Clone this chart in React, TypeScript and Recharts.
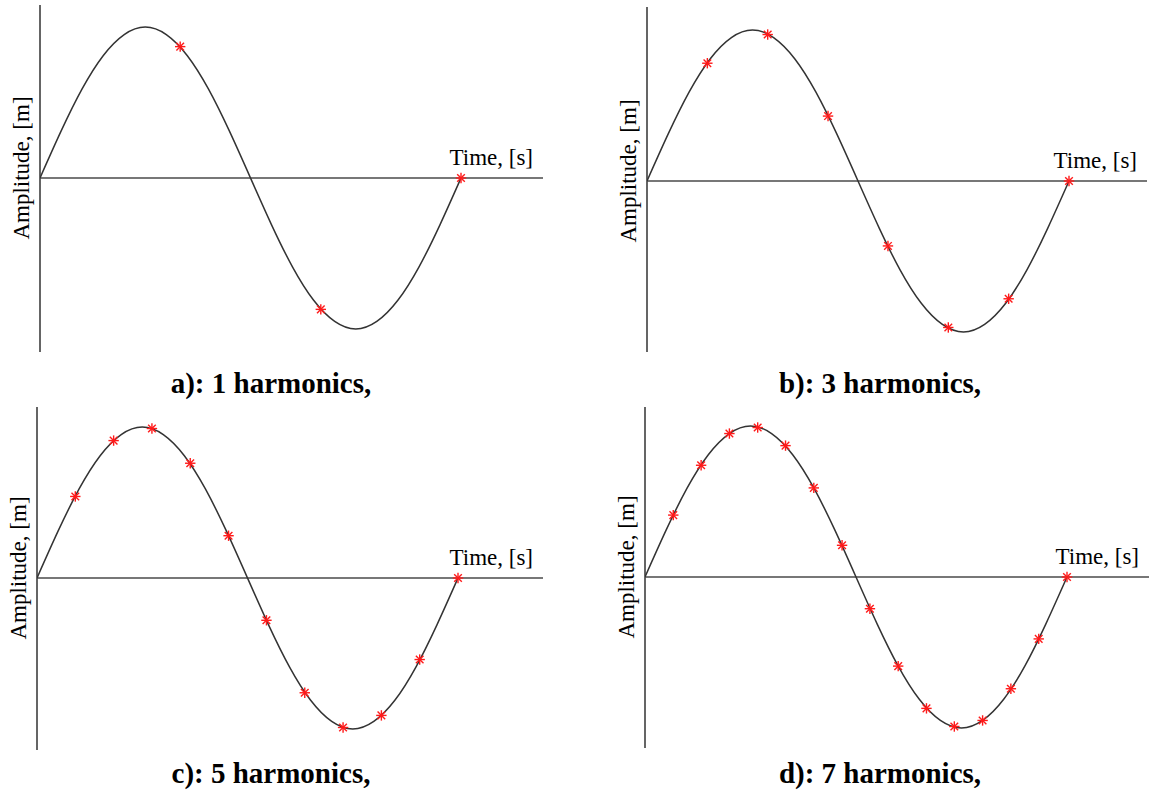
import { LineChart, Line, XAxis, YAxis, ReferenceLine } from 'recharts'

// one period of the reconstructed signal (normalised amplitude)
const curveTime = [0, 0.05, 0.1, 0.15, 0.2, 0.25, 0.3, 0.35, 0.4, 0.45, 0.5, 0.55, 0.6, 0.65, 0.7, 0.75, 0.8, 0.85, 0.9, 0.95, 1]
const curveAmp = [0, 0.31, 0.59, 0.81, 0.95, 1, 0.95, 0.81, 0.59, 0.31, 0, -0.31, -0.59, -0.81, -0.95, -1, -0.95, -0.81, -0.59, -0.31, 0]

// red sample points per panel
const timeA = [0.333, 0.667, 1]
const ampA = [0.87, -0.87, 0]

const timeB = [0.143, 0.286, 0.429, 0.571, 0.714, 0.857, 1]
const ampB = [0.78, 0.97, 0.43, -0.43, -0.97, -0.78, 0]

const timeC = [0.091, 0.182, 0.273, 0.364, 0.455, 0.545, 0.636, 0.727, 0.818, 0.909, 1]
const ampC = [0.54, 0.91, 0.99, 0.76, 0.28, -0.28, -0.76, -0.99, -0.91, -0.54, 0]

const timeD = [0.067, 0.133, 0.2, 0.267, 0.333, 0.4, 0.467, 0.533, 0.6, 0.667, 0.733, 0.8, 0.867, 0.933, 1]
const ampD = [0.41, 0.74, 0.95, 0.99, 0.87, 0.59, 0.21, -0.21, -0.59, -0.87, -0.99, -0.95, -0.74, -0.41, 0]

const captions = ['a): 1 harmonics,', 'b): 3 harmonics,', 'c): 5 harmonics,', 'd): 7 harmonics,']
const xLabel = 'Time, [s]'
const yLabel = 'Amplitude, [m]'

const FONT = '"Liberation Serif", "Times New Roman", serif'

// pixel layout of each panel: box = chart div, plot = axis extents, zero = y of time axis
const layouts = [
  { box: [0, 0, 574, 400], plot: [40, 5, 543, 352], zero: 178, period: 421, amp: 151, cap: [271, 393] },
  { box: [574, 0, 575, 400], plot: [647, 7, 1147, 352], zero: 181, period: 422, amp: 151, cap: [880, 393] },
  { box: [0, 400, 574, 396], plot: [37, 407, 543, 750], zero: 578, period: 421, amp: 151, cap: [271, 783] },
  { box: [574, 400, 575, 396], plot: [645, 407, 1149, 748], zero: 577, period: 422, amp: 151, cap: [880, 783] },
]

const curve = curveTime.map((t, i) => ({ t, v: curveAmp[i] }))
const samples = [
  timeA.map((t, i) => ({ t, v: ampA[i] })),
  timeB.map((t, i) => ({ t, v: ampB[i] })),
  timeC.map((t, i) => ({ t, v: ampC[i] })),
  timeD.map((t, i) => ({ t, v: ampD[i] })),
]

function Star(props: any) {
  const { cx, cy, index } = props
  if (cx == null || cy == null) return <g key={index} />
  const r = 5.2
  const d = 3.8
  const s = { stroke: '#ff1a1a', strokeWidth: 1.4 }
  return (
    <g key={`star-${index}`}>
      <line x1={cx - r} y1={cy} x2={cx + r} y2={cy} {...s} />
      <line x1={cx} y1={cy - r} x2={cx} y2={cy + r} {...s} />
      <line x1={cx - d} y1={cy - d} x2={cx + d} y2={cy + d} {...s} />
      <line x1={cx - d} y1={cy + d} x2={cx + d} y2={cy - d} {...s} />
    </g>
  )
}

function Panel({ idx }: { idx: number }) {
  const L = layouts[idx]
  const [bx, by, bw, bh] = L.box
  const [px0, py0, px1, py1] = L.plot
  const xMax = (px1 - px0) / L.period
  const yMax = (L.zero - py0) / L.amp
  const yMin = -(py1 - L.zero) / L.amp

  return (
    <div style={{ position: 'absolute', left: bx, top: by, width: bw, height: bh }}>
      <LineChart
        width={bw}
        height={bh}
        margin={{ left: px0 - bx, top: py0 - by, right: bx + bw - px1, bottom: by + bh - py1 }}
      >
        <XAxis dataKey="t" type="number" domain={[0, xMax]} allowDataOverflow hide />
        <YAxis type="number" domain={[yMin, yMax]} allowDataOverflow hide />
        <ReferenceLine
          x={0}
          stroke="#4a4a4a"
          strokeWidth={1.7}
          label={(p: any) => {
            const vb = p.viewBox || {}
            const cx = (vb.x ?? px0) - 11
            const cy = L.zero - by - 10
            return (
              <text
                x={cx}
                y={cy}
                transform={`rotate(-90, ${cx}, ${cy})`}
                textAnchor="middle"
                fontFamily={FONT}
                fontSize={23}
                fill="#000"
              >
                {yLabel}
              </text>
            )
          }}
        />
        <ReferenceLine
          y={0}
          stroke="#4a4a4a"
          strokeWidth={1.7}
          label={(p: any) => {
            const vb = p.viewBox || {}
            const x = (vb.x ?? 0) + (vb.width ?? 0) - 10
            const y = (vb.y ?? 0) - 13
            return (
              <text x={x} y={y} textAnchor="end" fontFamily={FONT} fontSize={23} fill="#000">
                {xLabel}
              </text>
            )
          }}
        />
        <Line
          data={curve}
          dataKey="v"
          type="natural"
          stroke="#333333"
          strokeWidth={1.5}
          dot={false}
          activeDot={false}
          isAnimationActive={false}
        />
        <Line
          data={samples[idx]}
          dataKey="v"
          stroke="none"
          dot={Star}
          activeDot={false}
          isAnimationActive={false}
        />
      </LineChart>
    </div>
  )
}

export default function App() {
  return (
    <div style={{ position: 'absolute', left: 0, top: 0, width: 1149, height: 796, background: '#fff' }}>
      {layouts.map((_, i) => (
        <Panel key={i} idx={i} />
      ))}
      <svg width={1149} height={796} style={{ position: 'absolute', left: 0, top: 0, pointerEvents: 'none' }}>
        {layouts.map((L, i) => (
          <text
            key={i}
            x={L.cap[0]}
            y={L.cap[1]}
            textAnchor="middle"
            fontFamily={FONT}
            fontWeight="bold"
            fontSize={29}
            fill="#000"
          >
            {captions[i]}
          </text>
        ))}
      </svg>
    </div>
  )
}
